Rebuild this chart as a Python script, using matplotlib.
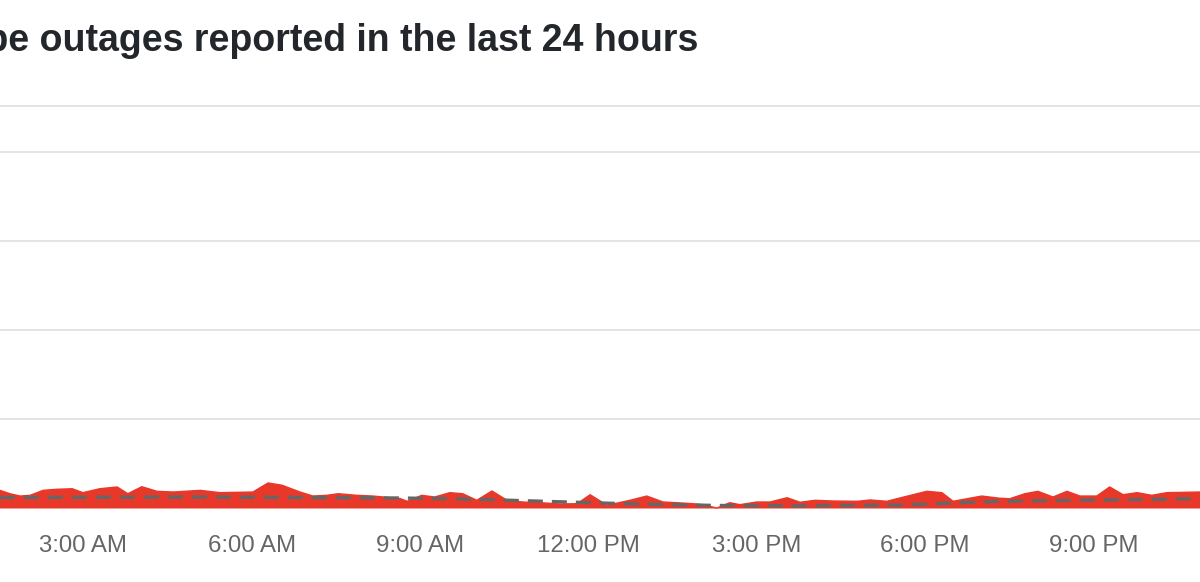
import matplotlib
import matplotlib.pyplot as plt
import numpy as np

matplotlib.use('agg')

# hours of the day (decimal) and reports
hours = [1.51, 1.69, 1.87, 2.05, 2.28, 2.53, 2.80, 2.99, 3.29, 3.60, 3.79, 4.04, 4.31, 4.60,
         5.08, 5.43, 6.02, 6.29, 6.54, 6.86, 7.09, 7.34, 7.54, 7.87, 8.16, 8.64, 8.77, 9.03,
         9.26, 9.53, 9.76, 10.01, 10.28, 10.55, 10.83, 11.14, 11.49, 11.80, 12.03, 12.21,
         12.33, 12.74, 13.04, 13.33, 13.58, 13.86, 14.04, 14.29, 14.52, 14.70, 15.00, 15.24,
         15.54, 15.77, 16.04, 16.36, 16.80, 17.02, 17.32, 17.55, 18.03, 18.30, 18.50, 19.01,
         19.33, 19.51, 19.78, 20.01, 20.28, 20.53, 20.76, 21.06, 21.29, 21.53, 21.78, 22.04,
         22.31, 22.90]
reports = [2.04, 1.66, 1.40, 1.48, 2.04, 2.16, 2.22, 1.78, 2.22, 2.42, 1.66, 2.45, 1.93, 1.85,
           2.04, 1.78, 1.85, 2.87, 2.61, 1.85, 1.40, 1.48, 1.66, 1.48, 1.40, 1.12, 0.81, 1.48,
           1.29, 1.78, 1.66, 0.92, 1.97, 0.92, 0.73, 0.65, 0.51, 0.54, 1.55, 0.84,
           0.36, 0.92, 1.40, 0.73, 0.65, 0.54, 0.43, 0.05, 0.65, 0.43, 0.73, 0.73,
           1.21, 0.70, 0.92, 0.84, 0.81, 0.96, 0.81, 1.18, 1.93, 1.78, 0.81, 1.40,
           1.15, 1.10, 1.66, 1.93, 1.29, 1.93, 1.40, 1.40, 2.42, 1.55, 1.78, 1.48,
           1.78, 1.85]

baseline_hours = [1.51, 5.08, 6.86, 8.64, 9.53, 10.42, 11.31, 12.21, 13.10, 14.34, 15.77,
                  17.55, 18.62, 19.33, 21.12, 22.90]
baseline = [1.24, 1.29, 1.24, 1.18, 1.10, 0.96, 0.79, 0.62, 0.47, 0.34, 0.31,
            0.39, 0.65, 0.81, 0.96, 1.10]

tick_hours = [3, 6, 9, 12, 15, 18, 21]
tick_labels = ['3:00 AM', '6:00 AM', '9:00 AM', '12:00 PM', '3:00 PM', '6:00 PM', '9:00 PM']
grid_levels = [10, 20, 30, 40]

red = '#e8382a'

fig = plt.figure(figsize=(12, 5.82), dpi=100)
ax = fig.add_axes([0, 1 - 508.5 / 582, 1, (508.5 - 105.5) / 582])

ax.fill_between(hours, reports, 0, color=red, linewidth=0, zorder=2)
ax.plot(hours, reports, color=red, linewidth=1.0, zorder=2)
ax.plot(baseline_hours, baseline, color='#666666', linewidth=2.4,
        dashes=[4.5, 2.7], dash_capstyle='butt', zorder=3)

for g in grid_levels:
    ax.axhline(g, color='#e2e2e2', linewidth=1.3, zorder=1)

ax.set_xlim(1.512, 22.90)
ax.set_ylim(0, 45.28)
ax.set_yticks([])
ax.set_xticks(tick_hours)
ax.set_xticklabels(tick_labels)
ax.tick_params(axis='x', length=0, pad=19, labelsize=17.3, labelcolor='#666666')
for lbl in ax.get_xticklabels():
    lbl.set_family('Liberation Sans')

for side in ['left', 'right', 'bottom']:
    ax.spines[side].set_visible(False)
ax.spines['top'].set_color('#e2e2e2')
ax.spines['top'].set_linewidth(1.3)

fig.text(698 / 1200, 1 - 51 / 582, 'YouTube outages reported in the last 24 hours',
         ha='right', va='baseline', fontsize=27, fontweight='bold',
         family='Liberation Sans', color='#23262b')

fig.savefig('out.png', dpi=100)
